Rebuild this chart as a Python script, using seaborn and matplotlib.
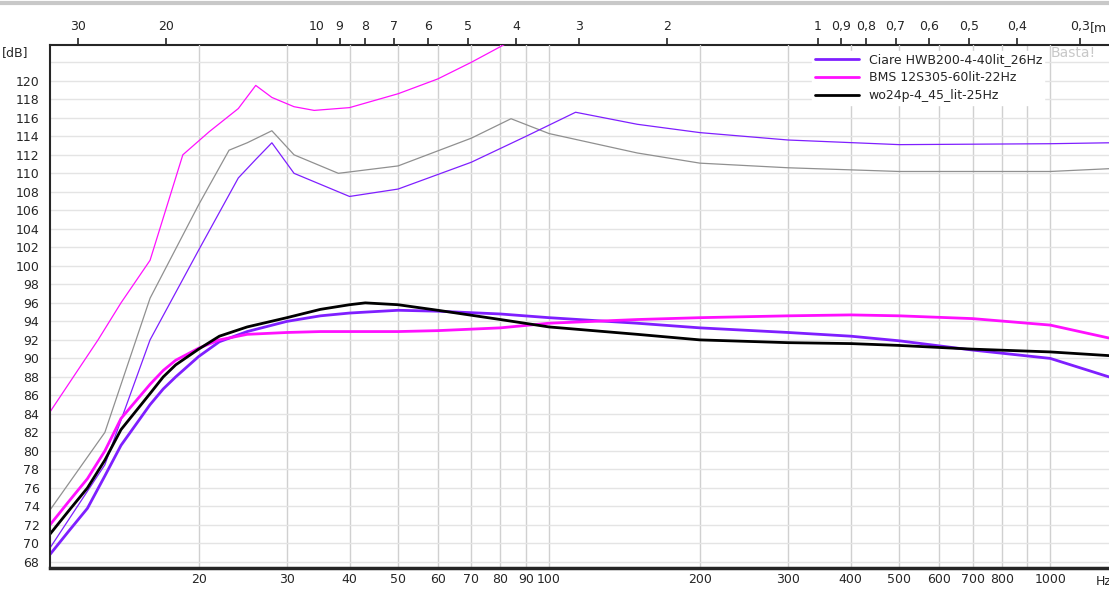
import numpy as np
import matplotlib
matplotlib.use("Agg")
import matplotlib.pyplot as plt
import seaborn as sns
from matplotlib.ticker import FixedLocator, NullLocator

# Werte (Hz, dB)
f_pink_thin = [10.1, 12.6, 14, 16, 18.6, 21, 24, 26, 28, 31, 34, 40, 50, 60, 70, 82]
db_pink_thin = [84.2, 92, 96, 100.6, 112, 114.5, 117, 119.5, 118.2, 117.2, 116.8, 117.1, 118.6, 120.2, 122, 124]

f_gray_thin = [10.1, 13, 16, 20, 23, 25, 28, 31, 38, 50, 70, 84, 100, 150, 200, 300, 500, 1000, 1310]
db_gray_thin = [73.6, 82, 96.5, 106.6, 112.5, 113.3, 114.6, 112, 110, 110.8, 113.8, 115.9, 114.3, 112.2, 111.1, 110.6, 110.2, 110.2, 110.5]

f_purp_thin = [10.1, 13, 16, 20, 24, 26, 28, 31, 40, 50, 70, 90, 113, 150, 200, 300, 500, 1000, 1310]
db_purp_thin = [69.5, 78.5, 92, 101.7, 109.5, 111.5, 113.3, 110, 107.5, 108.3, 111.2, 114, 116.6, 115.3, 114.4, 113.6, 113.1, 113.2, 113.3]

f_thick = [10.1, 11, 12, 13, 14, 16, 17, 18, 20, 22, 25, 30, 35, 40, 43, 50, 60, 80, 100, 150, 200, 300, 400, 500, 700, 1000, 1310]
db_black = [71, 73.5, 76, 79, 82.3, 86.2, 88, 89.3, 91, 92.4, 93.4, 94.4, 95.3, 95.8, 96, 95.8, 95.2, 94.2, 93.4, 92.6, 92, 91.7, 91.6, 91.4, 91, 90.7, 90.3]
db_purple = [68.8, 71.3, 73.8, 77.3, 80.6, 85, 86.7, 88, 90.2, 91.8, 92.9, 94, 94.6, 94.9, 95.0, 95.2, 95.1, 94.8, 94.4, 93.8, 93.3, 92.8, 92.4, 91.9, 90.9, 90, 88]
db_pink = [72, 74.5, 77, 80, 83.5, 87.2, 88.7, 89.8, 91.1, 92.0, 92.6, 92.8, 92.9, 92.9, 92.9, 92.9, 93.0, 93.3, 93.8, 94.2, 94.4, 94.6, 94.7, 94.6, 94.3, 93.6, 92.2]

labels = ["Ciare HWB200-4-40lit_26Hz", "BMS 12S305-60lit-22Hz", "wo24p-4_45_lit-25Hz"]
c_purple = "#7f1fff"
c_pink = "#ff10ff"

sns.set_style("white")
plt.rcParams['font.family'] = ['DejaVu Sans']

fig = plt.figure(figsize=(11.09, 5.96), dpi=100)
ax = fig.add_axes([0.045, 0.047, 0.955, 0.878])

for f, d, c in [(f_pink_thin, db_pink_thin, c_pink), (f_gray_thin, db_gray_thin, "#909090"),
                (f_purp_thin, db_purp_thin, c_purple)]:
    sns.lineplot(x=f, y=d, ax=ax, color=c, lw=0.9)

sns.lineplot(x=f_thick, y=db_purple, ax=ax, color=c_purple, lw=2, label=labels[0])
sns.lineplot(x=f_thick, y=db_pink, ax=ax, color=c_pink, lw=2, label=labels[1])
sns.lineplot(x=f_thick, y=db_black, ax=ax, color="black", lw=2, label=labels[2])

ax.set_xscale("log")
ax.set_xlim(10.1, 1310)
ax.set_ylim(67.35, 123.9)

xt = [20, 30, 40, 50, 60, 70, 80, 90, 100, 200, 300, 400, 500, 600, 700, 800, 1000]
ax.xaxis.set_major_locator(FixedLocator(xt))
ax.set_xticklabels([str(v) for v in xt], fontsize=9)
ax.xaxis.set_minor_locator(NullLocator())
ax.set_yticks(np.arange(68, 123, 2))
ax.set_yticklabels([str(v) if v <= 120 else "" for v in range(68, 123, 2)], fontsize=9)
ax.grid(True, axis="y", color="#e4e4e4", lw=1)
ax.grid(True, axis="x", color="#d0d0d0", lw=1)
ax.axvline(900, color="#d0d0d0", lw=1, zorder=0)
ax.tick_params(axis="both", length=4, direction="out", color="black")
ax.tick_params(axis="x", length=0)
fig.text(0.988, 0.035, "Hz", fontsize=9, ha="left", va="top")
fig.text(0.002, 0.912, "[dB]", fontsize=9, va="center")

for s in ["top", "right"]:
    ax.spines[s].set_visible(False)
ax.spines["bottom"].set_linewidth(2.5)
ax.spines["left"].set_linewidth(1.5)

top = ax.secondary_xaxis("top", functions=(lambda f: 344 / np.asarray(f), lambda w: 344 / np.asarray(w)))
wt = [30, 20, 10, 9, 8, 7, 6, 5, 4, 3, 2, 1, 0.9, 0.8, 0.7, 0.6, 0.5, 0.4, 0.3]
top.xaxis.set_major_locator(FixedLocator(wt))
top.set_xticklabels([("%g" % w).replace(".", ",") for w in wt], fontsize=9)
top.xaxis.set_minor_locator(NullLocator())
top.tick_params(length=5, width=1.2)
top.spines["top"].set_linewidth(1.5)
fig.text(0.998, 0.948, "[m", fontsize=9, ha="right")

leg = ax.legend(loc="upper right", bbox_to_anchor=(0.945, 1.0), frameon=True, fontsize=9,
                handlelength=3.5, borderpad=0.2, labelspacing=0.4, fancybox=False)
leg.get_frame().set_edgecolor("white")
leg.get_frame().set_alpha(1)
fig.text(0.968, 0.905, "Basta!", fontsize=10, color="#c8c8c8", ha="center")

fig.add_artist(plt.Line2D([0, 1], [0.995, 0.995], color="#c8c8c8", lw=3, transform=fig.transFigure))
fig.savefig("out.png", dpi=100)
